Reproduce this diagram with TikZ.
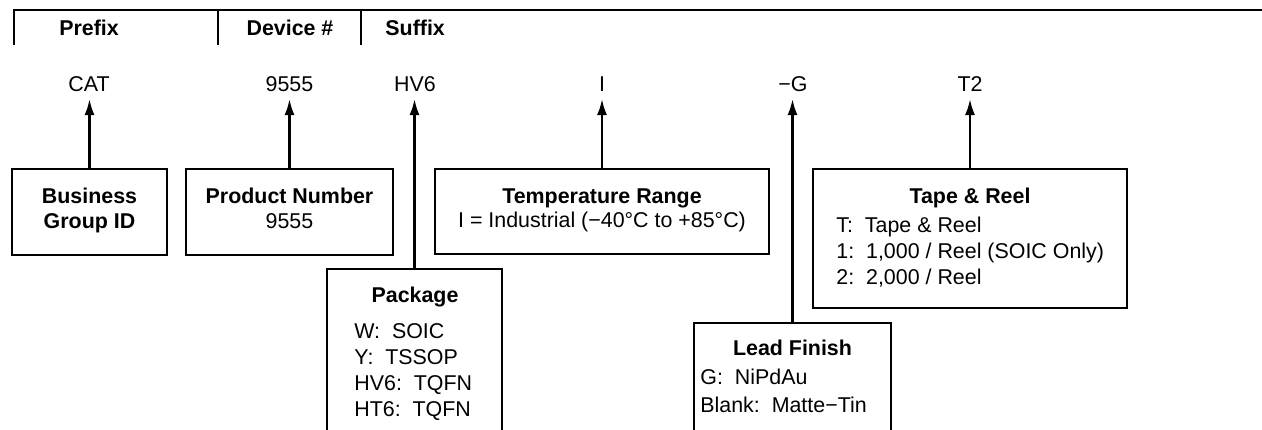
\documentclass[tikz,border=0pt]{standalone}
\usepackage{fontspec}
\setmainfont{Liberation Sans}
\usetikzlibrary{arrows.meta}
\begin{document}
\begin{tikzpicture}[x=0.5pt,y=-0.5pt,
  font=\fontsize{10.7}{13}\selectfont,
  box/.style={draw, line width=1.15pt, inner sep=0pt, rectangle},
  txt/.style={inner sep=0pt, anchor=base},
  ltxt/.style={inner sep=0pt, anchor=base west},
  hd/.style={inner sep=0pt, anchor=base, font=\fontsize{10.7}{13}\selectfont\bfseries},
  conn/.style={line width=1.15pt, -{Latex[length=8pt,width=5pt]}},
  rulew/.style={line width=1.35pt}]
\useasboundingbox (0,0) rectangle (1262,429);
\clip (0,0) rectangle (1262,429);

% header
\coordinate (hL) at (14,45);
\coordinate (hTL) at (14,10);
\coordinate (hR) at (1262,10);
\draw[rulew] (hL) -- (hTL) -- (hR);
\coordinate (d1a) at (218,10); \coordinate (d1b) at (218,45);
\coordinate (d2a) at (361,10); \coordinate (d2b) at (361,45);
\draw[rulew] (d1a) -- (d1b);
\draw[rulew] (d2a) -- (d2b);
\node[hd] (hPrefix) at (89,35) {Prefix};
\node[hd] (hDevice) at (290,35) {Device \#};
\node[hd, anchor=base west] (hSuffix) at (385,35) {Suffix};

% code row
\node[txt] (cCAT) at (89,91) {CAT};
\node[txt] (c9555) at (289.5,91) {9555};
\node[txt] (cHV6) at (415,91) {HV6};
\node[txt] (cI) at (602,91) {I};
\node[txt] (cG) at (793,91) {−G};
\node[txt] (cT2) at (970,91) {T2};
\coordinate (tipy) at (0,99);

% boxes
\node[box, minimum width=77.5pt, minimum height=43pt] (bgid) at (89.5,212) {};
\node[box, minimum width=103.5pt, minimum height=43pt] (pnum) at (289.5,212) {};
\node[box, minimum width=167pt, minimum height=42.5pt] (temp) at (602,211.5) {};
\node[box, minimum width=157pt, minimum height=69.5pt] (tape) at (970,238.5) {};
\node[box, minimum width=87.5pt, minimum height=90pt] (pkg) at (414.5,359) {};
\node[box, minimum width=98.5pt, minimum height=63pt] (lead) at (792.5,386) {};

% connectors
\foreach \b in {bgid,pnum,temp,tape,pkg,lead}
  \draw[conn] (\b.north) -- (\b.north |- tipy);

% box texts
\node[hd] (bgid1) at (89.5,203) {Business};
\node[hd] (bgid2) at (89.5,228) {Group ID};

\node[hd] (pnum1) at (289.5,203) {Product Number};
\node[txt] (pnum2) at (289.5,228) {9555};

\node[hd] (temp1) at (602,203) {Temperature Range};
\node[txt] (temp2) at (602,227) {I = Industrial (−40°C to +85°C)};

\node[hd] (tape1) at (970,203) {Tape \& Reel};
\node[ltxt] (tape2) at (836,232) {T:~~Tape \& Reel};
\node[ltxt] (tape3) at (836,258) {1:~~1,000 / Reel (SOIC Only)};
\node[ltxt] (tape4) at (836,284) {2:~~2,000 / Reel};

\node[hd] (pkg1) at (415,302) {Package};
\node[ltxt] (pkg2) at (354,338) {W:~~SOIC};
\node[ltxt] (pkg3) at (354,364) {Y:~~TSSOP};
\node[ltxt] (pkg4) at (354,390) {HV6:~~TQFN};
\node[ltxt] (pkg5) at (354,416) {HT6:~~TQFN};

\node[hd] (lead1) at (792.5,355) {Lead Finish};
\node[ltxt] (lead2) at (700,384) {G:~~NiPdAu};
\node[ltxt] (lead3) at (700,412) {Blank:~~Matte−Tin};
\end{tikzpicture}
\end{document}
